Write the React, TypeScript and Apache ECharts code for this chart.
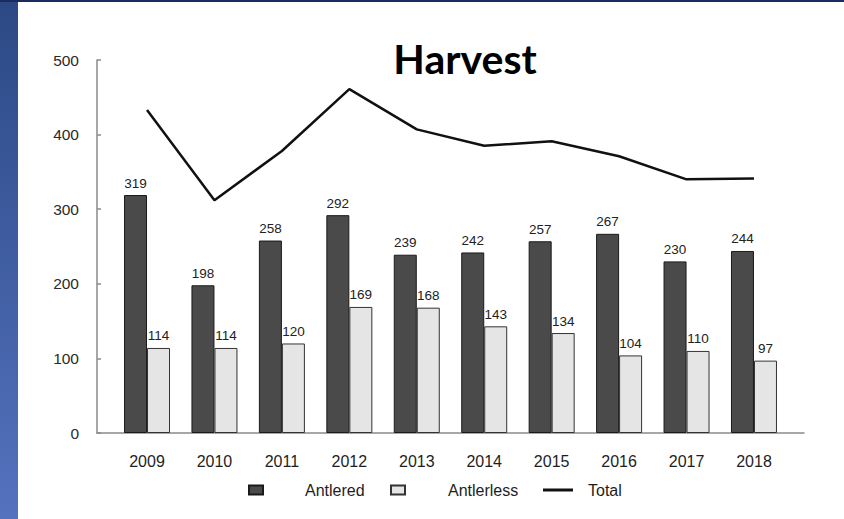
import React, { useEffect, useRef } from "react";
import * as echarts from "echarts";

const years = ["2009", "2010", "2011", "2012", "2013", "2014", "2015", "2016", "2017", "2018"];
const antlered = [319, 198, 258, 292, 239, 242, 257, 267, 230, 244];
const antlerless = [114, 114, 120, 169, 168, 143, 134, 104, 110, 97];
const total = [433, 312, 378, 461, 407, 385, 391, 371, 340, 341];
const yTicks = { min: 0, max: 500, interval: 100 };

const FONT = "Liberation Sans";

export default function App() {
  const ref = useRef<HTMLDivElement>(null);
  useEffect(() => {
    const chart = echarts.init(ref.current!, null, { renderer: "svg" });
    chart.setOption({
      animation: false,
      backgroundColor: "#ffffff",
      textStyle: { fontFamily: FONT },
      graphic: [
        {
          type: "rect",
          shape: { x: 0, y: 0, width: 18, height: 519 },
          style: {
            fill: new echarts.graphic.LinearGradient(0, 0, 0, 1, [
              { offset: 0, color: "#2c4985" },
              { offset: 1, color: "#5472be" },
            ]),
          },
          silent: true,
        },
        {
          type: "rect",
          shape: { x: 0, y: 0, width: 844, height: 2 },
          style: { fill: "#1b2b5c" },
          silent: true,
        },
        {
          type: "text",
          x: 465,
          y: 58,
          style: {
            text: "Harvest",
            font: "bold 41px Lato",
            fill: "#000",
            align: "center",
            verticalAlign: "middle",
          },
        },
      ],
      grid: [
        { left: 97, right: 40, top: 60, bottom: 86 },
        { left: 113.3, right: 56.3, top: 60, bottom: 86 },
      ],
      xAxis: [
        {
          gridIndex: 0,
          type: "value",
          min: 0,
          max: 1,
          axisLine: { show: true, lineStyle: { color: "#8a8a8a", width: 1.5 } },
          axisTick: { show: false },
          axisLabel: { show: false },
          splitLine: { show: false },
        },
        {
          gridIndex: 1,
          type: "category",
          data: years,
          axisLine: { show: false },
          axisTick: { show: false },
          axisLabel: { fontSize: 16, color: "#1e1e1e", margin: 20, fontFamily: FONT },
        },
      ],
      yAxis: [
        {
          gridIndex: 0,
          type: "value",
          min: yTicks.min,
          max: yTicks.max,
          interval: yTicks.interval,
          axisLine: { show: true, lineStyle: { color: "#8a8a8a", width: 1.5 } },
          axisTick: { show: true, inside: true, length: 4, lineStyle: { color: "#8a8a8a", width: 1.5 } },
          axisLabel: { fontSize: 15.5, color: "#2a2a2a", margin: 18, fontFamily: FONT },
          splitLine: { show: false },
        },
        {
          gridIndex: 1,
          type: "value",
          min: yTicks.min,
          max: yTicks.max,
          show: false,
        },
      ],
      legend: [
        {
          data: [{ name: "Antlered", icon: "rect" }],
          left: 248,
          top: 482,
          padding: 0,
          itemWidth: 14,
          itemHeight: 9,
          textStyle: { fontSize: 16, color: "#1e1e1e", fontFamily: FONT, padding: [0, 0, 0, 37] },
        },
        {
          data: [{ name: "Antlerless", icon: "rect" }],
          left: 390,
          top: 482,
          padding: 0,
          itemWidth: 14,
          itemHeight: 9,
          textStyle: { fontSize: 16, color: "#1e1e1e", fontFamily: FONT, padding: [0, 0, 0, 38] },
        },
        {
          data: [{ name: "Total", icon: "rect" }],
          left: 543,
          top: 482,
          padding: 0,
          itemWidth: 30,
          itemHeight: 3,
          textStyle: { fontSize: 16, color: "#1e1e1e", fontFamily: FONT, padding: [0, 0, 0, 10] },
        },
      ],
      series: [
        {
          name: "Antlered",
          type: "bar",
          xAxisIndex: 1,
          yAxisIndex: 1,
          data: antlered,
          barWidth: 23,
          barGap: "0%",
          itemStyle: { color: "#4a4a4a", borderColor: "#1a1a1a", borderWidth: 1 },
          label: { show: true, position: "top", distance: 5, fontSize: 13.5, color: "#222", fontFamily: FONT },
        },
        {
          name: "Antlerless",
          type: "bar",
          xAxisIndex: 1,
          yAxisIndex: 1,
          data: antlerless,
          barWidth: 23,
          barGap: "0%",
          itemStyle: { color: "#e5e5e5", borderColor: "#333", borderWidth: 1 },
          label: { show: true, position: "top", distance: 5, fontSize: 13.5, color: "#222", fontFamily: FONT },
        },
        {
          name: "Total",
          type: "line",
          xAxisIndex: 1,
          yAxisIndex: 1,
          data: total,
          symbol: "none",
          z: 5,
          lineStyle: { color: "#111", width: 2.5 },
          itemStyle: { color: "#111" },
        },
      ],
    });
    return () => chart.dispose();
  }, []);
  return (
    <div
      ref={ref}
      style={{ position: "fixed", left: 0, top: 0, width: 844, height: 519 }}
    />
  );
}
